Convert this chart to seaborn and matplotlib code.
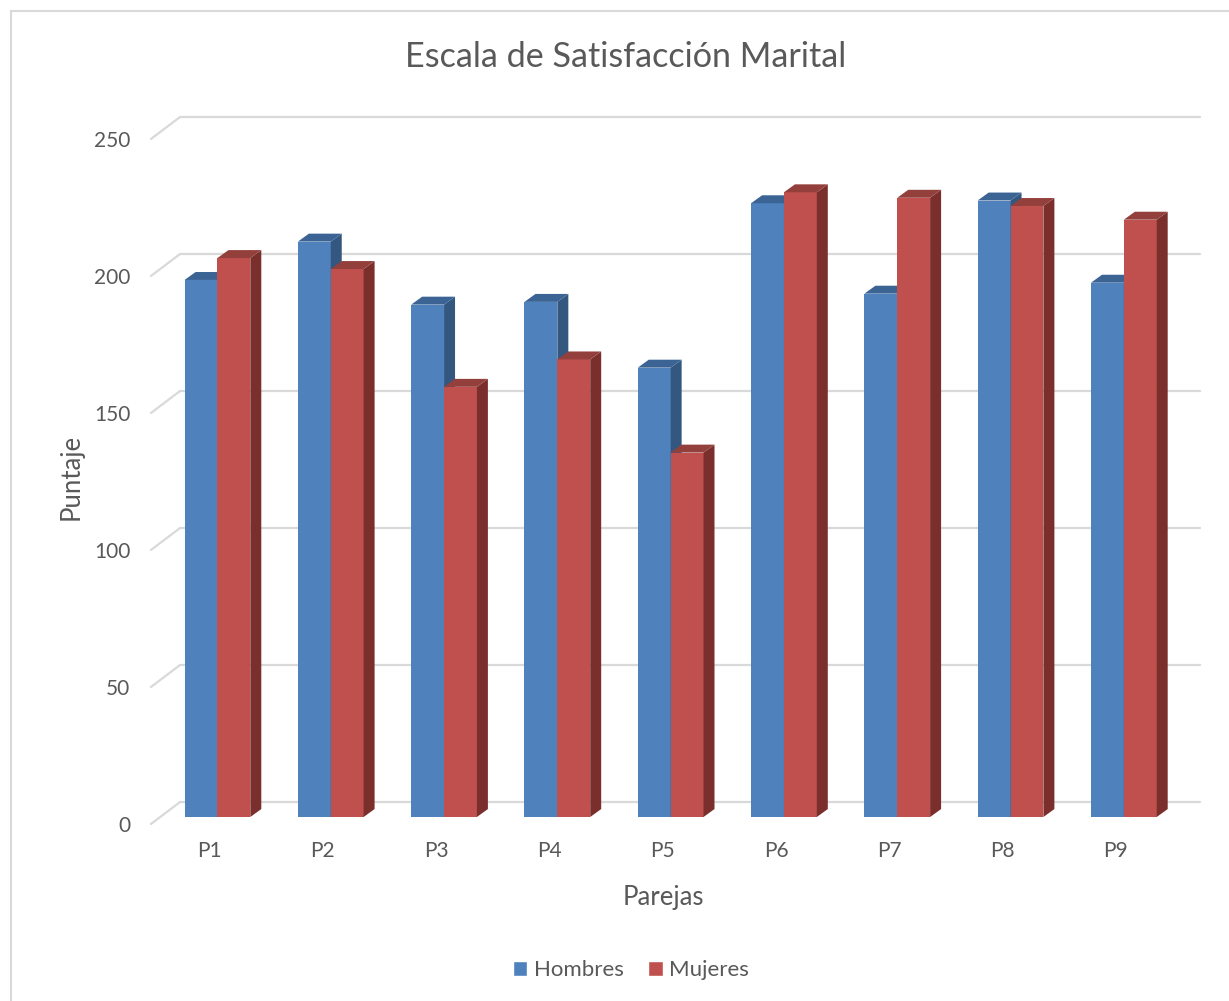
import numpy as np
import pandas as pd
import seaborn as sns
import matplotlib.pyplot as plt
from matplotlib.patches import Polygon, Rectangle, Patch
from matplotlib.transforms import ScaledTranslation

parejas = ['P1', 'P2', 'P3', 'P4', 'P5', 'P6', 'P7', 'P8', 'P9']
hombres = [196, 210, 187, 188, 164, 224, 191, 225, 195]
mujeres = [204, 200, 157, 167, 133, 228, 226, 223, 218]
y_ticks = [0, 50, 100, 150, 200, 250]

df = pd.DataFrame({
    'Pareja': parejas * 2,
    'Puntaje': hombres + mujeres,
    'Sexo': ['Hombres'] * len(parejas) + ['Mujeres'] * len(parejas),
})

sns.set_style('white')
plt.rcParams['font.family'] = ['Lato', 'DejaVu Sans']
gris = '#595959'

fig = plt.figure(figsize=(12.29, 10.01), dpi=100)
ax = fig.add_axes([160.8 / 1229, 184 / 1001, 1019.7 / 1229, 712.4 / 1001])

colores = {'Hombres': '#4F81BD', 'Mujeres': '#C0504D'}
sombras = {'Hombres': ('#3B6494', '#33577F'), 'Mujeres': ('#93403D', '#7A2F2D')}
sns.barplot(data=df, x='Pareja', y='Puntaje', hue='Sexo', hue_order=['Hombres', 'Mujeres'],
            palette=colores, width=0.58, saturation=1, legend=False, ax=ax)

ax.set_xlim(-0.5, 8.5)
ax.set_ylim(0, 260)

# profundidad 3D en unidades de datos
ddx, ddy = 0.097, 2.9
for k, (sexo, cont) in enumerate(zip(['Hombres', 'Mujeres'], ax.containers)):
    top_c, side_c = sombras[sexo]
    for p in cont.patches:
        p.set_zorder(2 + 2 * k)
        p.set_linewidth(0)
        x0, w, h = p.get_x(), p.get_width(), p.get_height()
        side = Polygon([(x0 + w, 0), (x0 + w + ddx, ddy), (x0 + w + ddx, h + ddy), (x0 + w, h)],
                       closed=True, facecolor=side_c, edgecolor='none', zorder=2.5 + 2 * k)
        top = Polygon([(x0, h), (x0 + ddx, h + ddy), (x0 + w + ddx, h + ddy), (x0 + w, h)],
                      closed=True, facecolor=top_c, edgecolor='none', zorder=2.5 + 2 * k)
        ax.add_patch(side)
        ax.add_patch(top)

# lineas de cuadricula en la pared del fondo
bx, by = 0.17, 5.47
fx, fy = -0.087, -2.55
for v in y_ticks:
    ax.plot([-0.5 + fx, -0.5 + bx], [v + fy, v + by], color='#D9D9D9', lw=1.6, zorder=1, clip_on=False)
    ax.plot([-0.5 + bx, 8.5 + bx], [v + by, v + by], color='#D9D9D9', lw=1.6, zorder=1, clip_on=False)

sns.despine(ax=ax, left=True, bottom=True)
ax.grid(False)
ax.set_yticks(y_ticks)
ax.set_yticklabels([str(v) for v in y_ticks])
ax.tick_params(axis='y', length=0, pad=22, labelsize=15, labelcolor=gris)
ax.tick_params(axis='x', length=0, pad=17, labelsize=15, labelcolor=gris)
for lab in ax.get_yticklabels():
    lab.set_transform(lab.get_transform() + ScaledTranslation(0, -0.07, fig.dpi_scale_trans))
for lab in ax.get_xticklabels():
    lab.set_transform(lab.get_transform() + ScaledTranslation(-0.08, 0, fig.dpi_scale_trans))

ax.set_xlabel('Parejas', fontsize=18.5, color=gris, va='center')
ax.set_ylabel('Puntaje', fontsize=18.5, color=gris, va='center')
ax.xaxis.set_label_coords((663 - 160.8) / 1019.7, (817 - 898) / 712.4)
ax.yaxis.set_label_coords((71 - 160.8) / 1019.7, (817 - 477) / 712.4)

fig.text(626 / 1229, 1 - 57 / 1001, 'Escala de Satisfacción Marital', fontsize=24.6,
         color=gris, ha='center', va='center')

handles = [Patch(facecolor=colores[s], label=s) for s in ['Hombres', 'Mujeres']]
fig.legend(handles=handles, loc='center', bbox_to_anchor=(631 / 1229, 1 - 970 / 1001), ncol=2,
           frameon=False, fontsize=16, labelcolor=gris, handlelength=0.65, handleheight=0.65,
           handletextpad=0.3, columnspacing=1.1)

fig.patches.append(Rectangle((11 / 1229, -0.01), 1.1, 1 - 11 / 1001 + 0.01, transform=fig.transFigure,
                             fill=False, edgecolor='#D9D9D9', lw=1.5))

fig.savefig('out.png', dpi=100)
